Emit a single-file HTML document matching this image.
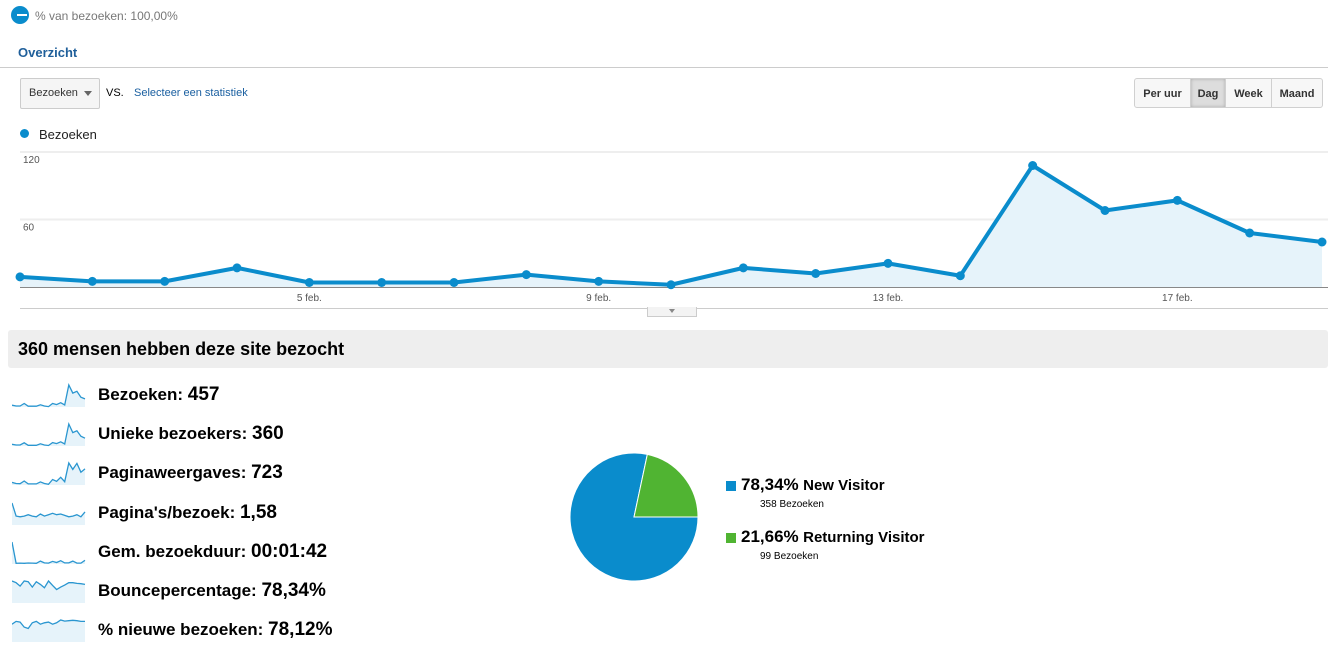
<!DOCTYPE html>
<html><head><meta charset="utf-8">
<style>
body{margin:0;width:1328px;height:651px;background:#fff;font-family:"Liberation Sans",Arial,sans-serif;position:relative;overflow:hidden}
.a{position:absolute}
.btn{position:absolute;top:78px;height:30px;line-height:30px;font-size:11px;font-weight:bold;color:#333;text-align:center;background:#f7f7f7;border:1px solid #d0d0d0;box-sizing:border-box}
.m{position:absolute;left:98px;font-size:17px;font-weight:bold;color:#000}
.m b{font-size:19px}
</style></head><body>
<div class="a" style="left:11px;top:6px;width:18px;height:18px;border-radius:50%;background:#0a8ccc"><div style="position:absolute;left:6px;top:8px;width:10px;height:2px;background:#fff"></div></div>
<div class="a" style="left:35px;top:9px;font-size:12px;color:#777">% van bezoeken: 100,00%</div>
<div class="a" style="left:18px;top:45px;font-size:13px;font-weight:bold;color:#1f5f9a">Overzicht</div>
<div class="a" style="left:0;top:67px;width:1328px;height:1px;background:#ccc"></div>
<div class="a" style="left:20px;top:78px;width:80px;height:31px;border:1px solid #ccc;border-radius:2px;background:#f5f5f5;box-sizing:border-box;font-size:11px;color:#333;line-height:29px;padding-left:8px">Bezoeken<span style="position:absolute;right:7px;top:12px;border-left:4px solid transparent;border-right:4px solid transparent;border-top:5px solid #666"></span></div>
<div class="a" style="left:106px;top:87px;font-size:11px;color:#000">VS.</div>
<div class="a" style="left:134px;top:87px;font-size:11px;color:#1a5fa0">Selecteer een statistiek</div>
<div class="btn" style="left:1134px;width:57px;border-radius:3px 0 0 3px">Per uur</div>
<div class="btn" style="left:1190px;width:36px;background:#ddd;box-shadow:inset 0 0 3px #aaa">Dag</div>
<div class="btn" style="left:1225px;width:47px">Week</div>
<div class="btn" style="left:1271px;width:52px;border-radius:0 3px 3px 0">Maand</div>
<div class="a" style="left:20px;top:129px;width:9px;height:9px;border-radius:50%;background:#0a8ccc"></div>
<div class="a" style="left:39px;top:127px;font-size:13px;color:#222">Bezoeken</div>
<svg class="a" style="left:0;top:140px" width="1328" height="180" id="mc"></svg>
<div class="a" style="left:647px;top:307px;width:50px;height:10px;background:#f3f3f3;border:1px solid #ccc;border-top:none;box-sizing:border-box"><span style="position:absolute;left:21px;top:2px;border-left:3px solid transparent;border-right:3px solid transparent;border-top:4px solid #888"></span></div>
<div class="a" style="left:8px;top:330px;width:1320px;height:38px;background:#eee;border-radius:3px"><div style="position:absolute;left:10px;top:9px;font-size:18px;font-weight:bold;color:#000">360 mensen hebben deze site bezocht</div></div>
<div id="metrics"></div>
<svg class="a" style="left:560px;top:440px" width="160" height="160" id="pie"></svg>
<div class="a" style="left:726px;top:475px">
<div style="position:absolute;left:0;top:6px;width:10px;height:10px;background:#0a8ccc"></div>
<div style="position:absolute;left:15px;top:0;white-space:nowrap;font-weight:bold"><span style="font-size:17px">78,34%</span> <span style="font-size:15px">New Visitor</span></div>
<div style="position:absolute;left:34px;top:24px;font-size:10px;white-space:nowrap">358 Bezoeken</div></div>
<div class="a" style="left:726px;top:527px">
<div style="position:absolute;left:0;top:6px;width:10px;height:10px;background:#50b432"></div>
<div style="position:absolute;left:15px;top:0;white-space:nowrap;font-weight:bold"><span style="font-size:17px">21,66%</span> <span style="font-size:15px">Returning Visitor</span></div>
<div style="position:absolute;left:34px;top:24px;font-size:10px;white-space:nowrap">99 Bezoeken</div></div>
<script>
const days=["1 feb.","2 feb.","3 feb.","4 feb.","5 feb.","6 feb.","7 feb.","8 feb.","9 feb.","10 feb.","11 feb.","12 feb.","13 feb.","14 feb.","15 feb.","16 feb.","17 feb.","18 feb.","19 feb."];
const visits=[9,5,5,17,4,4,4,11,5,2,17,12,21,10,108,68,77,48,40];
const yTicks=[60,120];
const xTickIdx=[4,8,12,16];
const pieValues=[78.34,21.66];
const pieColors=["#0a8ccc","#50b432"];
const sparkNames=["Bezoeken","Unieke bezoekers","Paginaweergaves","Pagina's/bezoek","Gem. bezoekduur","Bouncepercentage","% nieuwe bezoeken"];
const sparkValues=["457","360","723","1,58","00:01:42","78,34%","78,12%"];
const spark1=[9,5,5,17,4,4,4,11,5,2,17,12,21,10,108,68,77,48,40];
const spark2=[7,4,4,13,3,3,3,9,4,2,14,10,17,8,90,55,62,40,32];
const spark3=[14,8,7,22,6,6,6,17,8,4,30,20,42,18,120,85,118,70,88];
const spark4=[3.2,1.3,1.2,1.3,1.5,1.3,1.2,1.6,1.3,1.5,1.7,1.5,1.6,1.4,1.2,1.3,1.5,1.2,1.9];
const spark5=[300,10,12,10,14,12,10,40,15,12,35,20,45,15,15,40,12,12,50];
const spark6=[80,75,65,80,78,62,78,70,60,80,67,55,62,68,75,75,73,72,70];
const spark7=[60,80,75,40,30,70,80,60,70,75,60,70,90,82,85,88,85,80,80];
const sparks=[spark1,spark2,spark3,spark4,spark5,spark6,spark7];
const NS="http://www.w3.org/2000/svg";
function mk(p,t,a){const e=document.createElementNS(NS,t);for(const k in a)e.setAttribute(k,a[k]);p.appendChild(e);return e;}
const mc=document.getElementById('mc');
const X0=20,X1=1322,Y0=147;
const xs=i=>X0+i*(X1-X0)/(days.length-1);
const ys=v=>Y0-v*(Y0-12)/120;
yTicks.forEach(t=>{const g=mk(mc,'line',{x1:20,x2:1328,y1:ys(t),y2:ys(t),stroke:'#eee','stroke-width':2});

const tx=mk(mc,'text',{x:23,y:ys(t)+11,'font-size':10,fill:'#555','font-family':'Liberation Sans'});tx.textContent=t;
});
let pts=visits.map((v,i)=>xs(i)+','+ys(v)).join(' ');
const ar=mk(mc,'polygon',{points:X0+','+Y0+' '+pts+' '+X1+','+Y0,fill:'#e6f3fa'});

const bl=mk(mc,'line',{x1:20,x2:1328,y1:Y0+0.5,y2:Y0+0.5,stroke:'#888','stroke-width':1});

const bl2=mk(mc,'line',{x1:20,x2:1328,y1:168.5,y2:168.5,stroke:'#ccc','stroke-width':1});

const ln=mk(mc,'polyline',{points:pts,fill:'none',stroke:'#0a8ccc','stroke-width':4,'stroke-linejoin':'round'});

visits.forEach((v,i)=>{const c=mk(mc,'circle',{cx:xs(i),cy:ys(v),r:4.5,fill:'#0a8ccc'});
});
xTickIdx.forEach(i=>{const t=mk(mc,'text',{x:xs(i),y:161,'font-size':10,fill:'#555','text-anchor':'middle','font-family':'Liberation Sans'});t.textContent=days[i];
});
const mdiv=document.getElementById('metrics');
sparkNames.forEach((n,k)=>{const top=383+k*39.2;
const s=document.createElementNS(NS,'svg');s.setAttribute('width',76);s.setAttribute('height',28);
s.setAttribute('style','position:absolute;left:12px;top:'+(top-2)+'px');


mdiv.appendChild(s);
const d=sparks[k],mx=Math.max(...d),dmn=Math.min(...d),mn=k>=5?dmn-(mx-dmn)*1.6:0;
const p=d.map((v,i)=>(i*73/(d.length-1)).toFixed(1)+','+(26-(v-mn)/(mx-mn)*22).toFixed(1)).join(' ');
mk(s,'polygon',{points:'0,26 '+p+' 73,26',fill:'#e6f3fa'});
mk(s,'polyline',{points:p,fill:'none',stroke:'#2a96d0','stroke-width':1.3});
const t=document.createElement('div');t.className='m';t.style.top=(top+1)+'px';


t.innerHTML=n+': <b>'+sparkValues[k]+'</b>';mdiv.appendChild(t);});
const pie=document.getElementById('pie');const cx=74,cy=77,r=64;
const tot=pieValues.reduce((a,b)=>a+b,0);
let ang=Math.PI/2;
pieValues.forEach((v,i)=>{const a1=ang+v/tot*2*Math.PI;
const p=(a)=>[cx+r*Math.sin(a),cy-r*Math.cos(a)];
const [x1,y1]=p(ang),[x2,y2]=p(a1);
const path=mk(pie,'path',{d:`M${cx},${cy} L${x1},${y1} A${r},${r} 0 ${a1-ang>Math.PI?1:0} 1 ${x2},${y2} Z`,fill:pieColors[i],stroke:'#fff','stroke-width':1});
ang=a1;});
</script>
</body></html>
